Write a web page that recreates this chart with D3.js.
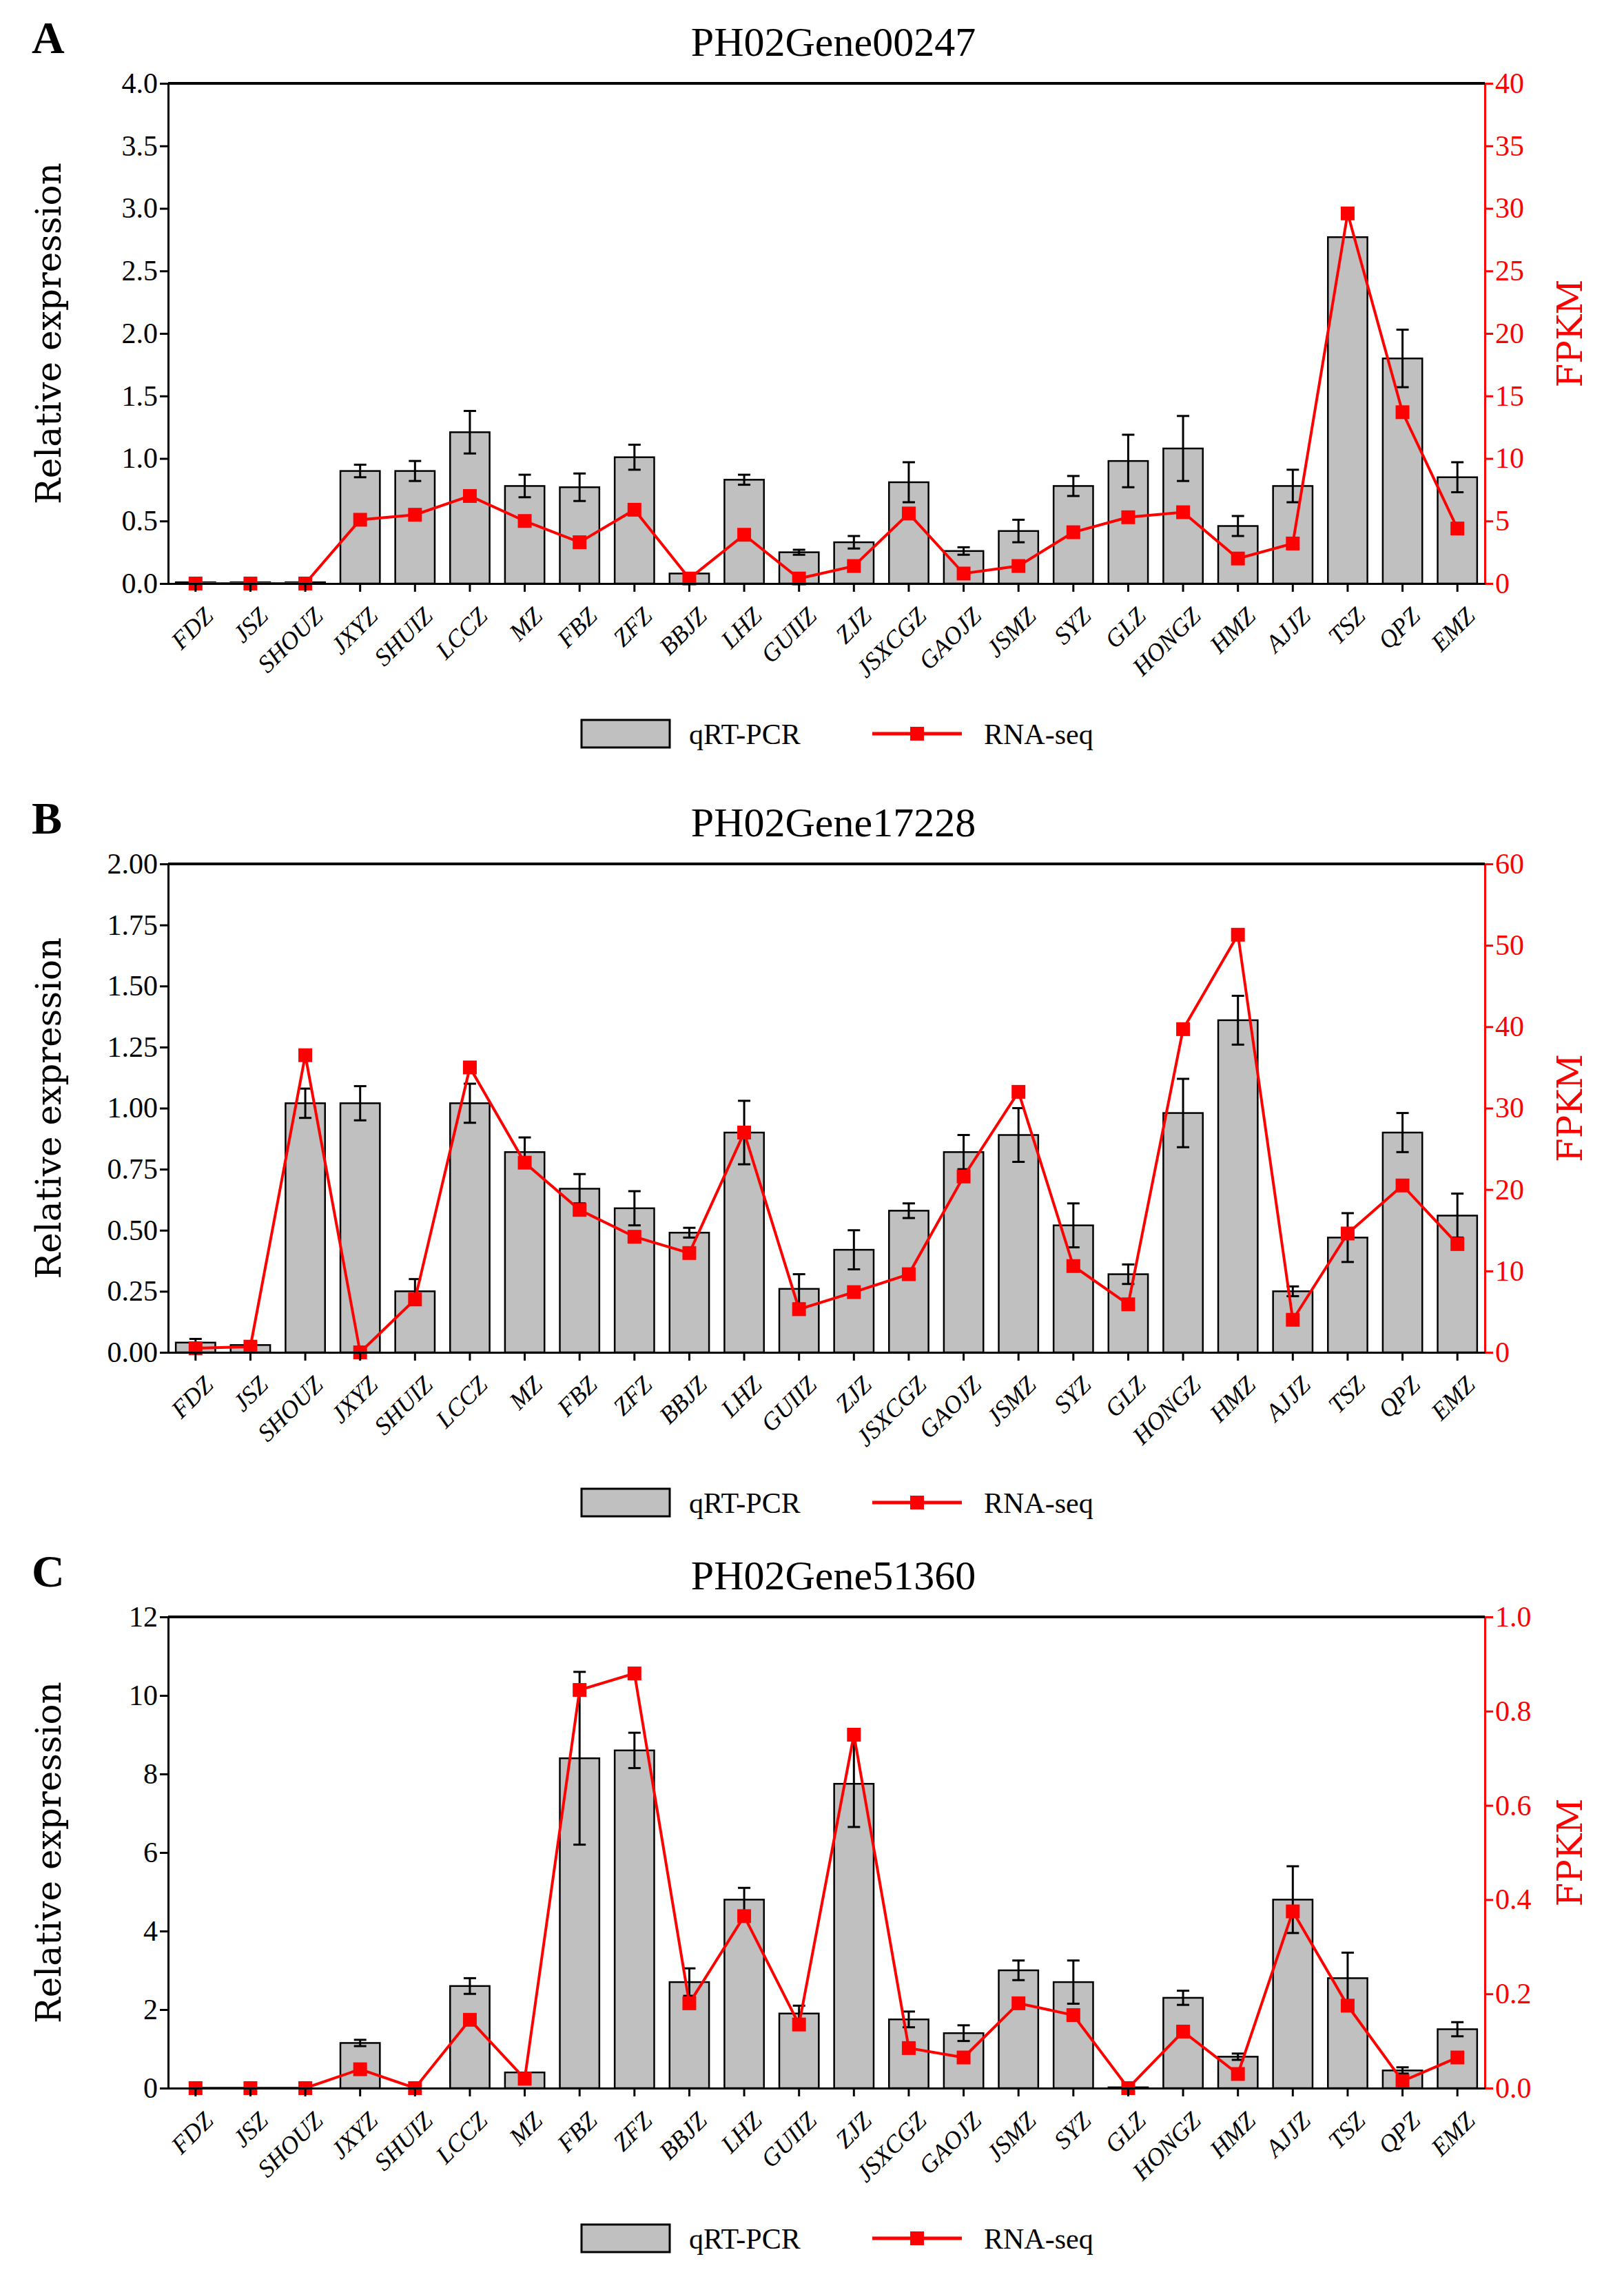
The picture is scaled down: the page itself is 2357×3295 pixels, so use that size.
<!DOCTYPE html>
<html><head><meta charset="utf-8">
<script src="https://cdn.jsdelivr.net/npm/d3@7"></script>
<style>body{margin:0;background:#fff}</style>
</head><body>
<div id="vis"></div>
<script>
var categories = ["FDZ","JSZ","SHOUZ","JXYZ","SHUIZ","LCCZ","MZ","FBZ","ZFZ","BBJZ","LHZ","GUIIZ","ZJZ","JSXCGZ","GAOJZ","JSMZ","SYZ","GLZ","HONGZ","HMZ","AJJZ","TSZ","QPZ","EMZ"];

var qpcrA = [0.01,0.01,0.01,0.90,0.90,1.21,0.78,0.77,1.01,0.08,0.83,0.25,0.33,0.81,0.26,0.42,0.78,0.98,1.08,0.46,0.78,2.77,1.80,0.85];
var errA  = [0,0,0,0.05,0.08,0.17,0.09,0.11,0.10,0,0.04,0.02,0.05,0.16,0.03,0.09,0.08,0.21,0.26,0.08,0.13,0,0.23,0.12];
var rnaA  = [0,0,0,5.1,5.5,7.0,5.0,3.3,5.9,0.4,3.9,0.4,1.4,5.6,0.8,1.4,4.1,5.3,5.7,2.0,3.2,29.6,13.7,4.4];

var qpcrB = [0.04,0.03,1.02,1.02,0.25,1.02,0.82,0.67,0.59,0.49,0.90,0.26,0.42,0.58,0.82,0.89,0.52,0.32,0.98,1.36,0.25,0.47,0.90,0.56];
var errB  = [0.015,0.01,0.06,0.07,0.05,0.08,0.06,0.06,0.07,0.02,0.13,0.06,0.08,0.03,0.07,0.11,0.09,0.04,0.14,0.10,0.02,0.10,0.08,0.09];
var rnaB  = [0.5,0.7,36.5,0,6.5,35,23.3,17.5,14.2,12.2,27.0,5.3,7.4,9.6,21.6,32.0,10.6,5.9,39.7,51.3,4.0,14.6,20.5,13.3];

var qpcrC = [0,0,0,1.15,0,2.6,0.4,8.4,8.6,2.7,4.8,1.9,7.75,1.75,1.4,3.0,2.7,0.02,2.3,0.8,4.8,2.8,0.45,1.5];
var errC  = [0,0,0,0.08,0,0.2,0,2.2,0.45,0.35,0.3,0.2,1.1,0.2,0.2,0.25,0.55,0,0.18,0.08,0.85,0.65,0.08,0.18];
var rnaC  = [0,0,0,0.04,0,0.145,0.02,0.845,0.88,0.18,0.365,0.135,0.75,0.085,0.065,0.18,0.155,0,0.12,0.03,0.375,0.175,0.015,0.065];

var panels = [
  {label:"A", title:"PH02Gene00247", bars:qpcrA, err:errA, rna:rnaA, yMax:4, yTicks:d3.range(0,4.01,0.5), yFmt:d3.format(".1f"), rMax:40, rTicks:d3.range(0,41,5), rFmt:d3.format("d"), top:121, bottom:847},
  {label:"B", title:"PH02Gene17228", bars:qpcrB, err:errB, rna:rnaB, yMax:2, yTicks:d3.range(0,2.01,0.25), yFmt:d3.format(".2f"), rMax:60, rTicks:d3.range(0,61,10), rFmt:d3.format("d"), top:1254, bottom:1963},
  {label:"C", title:"PH02Gene51360", bars:qpcrC, err:errC, rna:rnaC, yMax:12, yTicks:d3.range(0,13,2), yFmt:d3.format("d"), rMax:1, rTicks:d3.range(0,1.01,0.2), rFmt:d3.format(".1f"), top:2347, bottom:3031}
];

var W = 2357, H = 3295, left = 244, right = 2155;
var svg = d3.select("#vis").append("svg").attr("width", W).attr("height", H);
var serif = "'Liberation Serif', serif";

panels.forEach(function(p) {
  var g = svg.append("g");
  var x = d3.scaleBand().domain(categories).range([left, right]).paddingInner(0.28).paddingOuter(0.14);
  var y = d3.scaleLinear().domain([0, p.yMax]).range([p.bottom, p.top]);
  var yr = d3.scaleLinear().domain([0, p.rMax]).range([p.bottom, p.top]);

  g.append("text").attr("x", 46).attr("y", p.top - 44).attr("font-family", serif).attr("font-weight", "bold").attr("font-size", 66).text(p.label);
  g.append("text").attr("x", (left + right) / 2 + 10).attr("y", p.top - 40).attr("text-anchor", "middle").attr("font-family", serif).attr("font-size", 60).text(p.title);

  // bars
  g.selectAll(".bar").data(p.bars).enter().append("rect")
    .attr("x", function(d, i) { return x(categories[i]); })
    .attr("y", function(d) { return y(d); })
    .attr("width", x.bandwidth())
    .attr("height", function(d) { return p.bottom - y(d); })
    .attr("fill", "#c0c0c0").attr("stroke", "#000").attr("stroke-width", 2.5);

  // error bars
  p.err.forEach(function(e, i) {
    if (e <= 0) return;
    var cx = x(categories[i]) + x.bandwidth() / 2;
    g.append("line").attr("x1", cx).attr("x2", cx).attr("y1", y(p.bars[i] - e)).attr("y2", y(p.bars[i] + e)).attr("stroke", "#000").attr("stroke-width", 3);
    [p.bars[i] - e, p.bars[i] + e].forEach(function(v) {
      g.append("line").attr("x1", cx - 9).attr("x2", cx + 9).attr("y1", y(v)).attr("y2", y(v)).attr("stroke", "#000").attr("stroke-width", 3);
    });
  });

  // line
  var line = d3.line().x(function(d, i) { return x(categories[i]) + x.bandwidth() / 2; }).y(function(d) { return yr(d); });
  g.append("path").datum(p.rna).attr("d", line).attr("fill", "none").attr("stroke", "#ff0000").attr("stroke-width", 4);
  g.selectAll(".pt").data(p.rna).enter().append("rect")
    .attr("x", function(d, i) { return x(categories[i]) + x.bandwidth() / 2 - 10; })
    .attr("y", function(d) { return yr(d) - 10; })
    .attr("width", 20).attr("height", 20).attr("fill", "#ff0000");

  // axes
  var ya = g.append("g").attr("transform", "translate(" + left + ",0)")
    .call(d3.axisLeft(y).tickValues(p.yTicks).tickFormat(p.yFmt).tickSize(12));
  ya.selectAll("text").attr("font-family", serif).attr("font-size", 42);
  ya.select(".domain").attr("stroke-width", 3);
  ya.selectAll(".tick line").attr("stroke-width", 3);

  var ra = g.append("g").attr("transform", "translate(" + right + ",0)")
    .call(d3.axisRight(yr).tickValues(p.rTicks).tickFormat(p.rFmt).tickSize(12));
  ra.selectAll("text").attr("font-family", serif).attr("font-size", 42).attr("fill", "#ff0000");
  ra.select(".domain").attr("stroke", "#ff0000").attr("stroke-width", 3);
  ra.selectAll(".tick line").attr("stroke", "#ff0000").attr("stroke-width", 3);

  var xa = g.append("g").attr("transform", "translate(0," + p.bottom + ")")
    .call(d3.axisBottom(x).tickSize(12).tickSizeOuter(0));
  xa.select(".domain").attr("stroke-width", 3);
  xa.selectAll(".tick line").attr("stroke-width", 3);
  xa.selectAll("text").attr("font-family", serif).attr("font-style", "italic").attr("font-size", 36)
    .attr("text-anchor", "end").attr("dy", "0.35em")
    .attr("transform", "translate(8,30) rotate(-45)");

  g.append("line").attr("x1", left).attr("x2", right).attr("y1", p.top).attr("y2", p.top).attr("stroke", "#000").attr("stroke-width", 4);

  g.append("text").attr("transform", "translate(88," + (p.top + p.bottom) / 2 + ") rotate(-90)")
    .attr("text-anchor", "middle").attr("font-family", "'DejaVu Serif', serif").attr("font-size", 50).text("Relative expression");
  g.append("text").attr("transform", "translate(2278," + (p.top + p.bottom) / 2 + ") rotate(-90)")
    .attr("text-anchor", "middle").attr("dy", "0.35em").attr("fill", "#ff0000").attr("font-family", "'DejaVu Serif', serif").attr("font-size", 50).text("FPKM");

  // legend
  var ly = p.bottom + 218;
  g.append("rect").attr("x", 844).attr("y", ly - 20).attr("width", 128).attr("height", 40).attr("fill", "#c0c0c0").attr("stroke", "#000").attr("stroke-width", 3);
  g.append("text").attr("x", 1000).attr("y", ly).attr("dy", "0.35em").attr("font-family", serif).attr("font-size", 42).text("qRT-PCR");
  g.append("line").attr("x1", 1266).attr("x2", 1396).attr("y1", ly).attr("y2", ly).attr("stroke", "#ff0000").attr("stroke-width", 5);
  g.append("rect").attr("x", 1321).attr("y", ly - 10).attr("width", 20).attr("height", 20).attr("fill", "#ff0000");
  g.append("text").attr("x", 1428).attr("y", ly).attr("dy", "0.35em").attr("font-family", serif).attr("font-size", 42).text("RNA-seq");
});
</script>
</body></html>
